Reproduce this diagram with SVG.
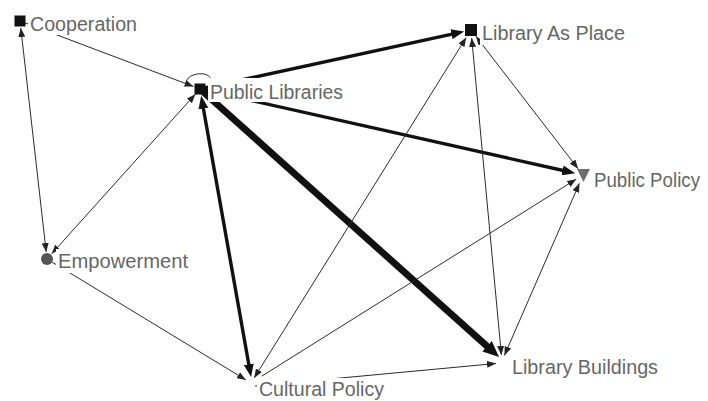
<svg xmlns="http://www.w3.org/2000/svg" width="708" height="401" viewBox="0 0 708 401">
<defs>
<marker id="aT" viewBox="0 0 9 7" refX="9" refY="3.5" markerWidth="9" markerHeight="7" markerUnits="userSpaceOnUse" orient="auto-start-reverse"><path d="M0,0 L9,3.5 L0,7 z" fill="#222"/></marker>
<marker id="aM" viewBox="0 0 13 10" refX="3" refY="5" markerWidth="13" markerHeight="10" markerUnits="userSpaceOnUse" orient="auto-start-reverse"><path d="M0,0 L13,5 L0,10 z" fill="#111"/></marker>
<marker id="aB" viewBox="0 0 16 14" refX="2" refY="7" markerWidth="16" markerHeight="14" markerUnits="userSpaceOnUse" orient="auto-start-reverse"><path d="M0,0 L16,7 L0,14 z" fill="#111"/></marker>
<style>
.thin{stroke:#2a2a2a;stroke-width:1;fill:none}
.med{stroke:#111;stroke-width:3.4;fill:none}
.big{stroke:#111;stroke-width:6.8;fill:none}
.lbl{font-family:"Liberation Sans",Arial,sans-serif;font-size:20px;fill:#666666}
.bg{fill:#ffffff}
.sq{fill:#111}
</style>
</defs>
<rect width="708" height="401" fill="#ffffff"/>
<g id="connectors">
<line class="thin" x1="20" y1="21" x2="193.5" y2="86.5" marker-end="url(#aT)"/>
<line class="thin" x1="20.8" y1="28" x2="46.2" y2="252" marker-start="url(#aT)" marker-end="url(#aT)"/>
<line class="thin" x1="195.3" y1="94.2" x2="51.7" y2="253.8" marker-start="url(#aT)" marker-end="url(#aT)"/>
<path class="thin" d="M186,84 C185,72 212,70 211,81"/>
<line class="med" x1="200" y1="89" x2="454.4" y2="33.6" marker-end="url(#aM)"/>
<line class="med" x1="200" y1="89" x2="565.4" y2="171" marker-end="url(#aM)"/>
<line class="med" x1="202.9" y1="105.7" x2="249.3" y2="367.2" marker-start="url(#aM)" marker-end="url(#aM)"/>
<line class="big" x1="200" y1="89" x2="488.6" y2="347.6" marker-end="url(#aB)"/>
<line class="thin" x1="47" y1="259" x2="245.9" y2="379.9" marker-end="url(#aT)"/>
<line class="thin" x1="466.2" y1="37.6" x2="254.2" y2="377.9" marker-start="url(#aT)" marker-end="url(#aT)"/>
<line class="thin" x1="471.7" y1="38" x2="501.4" y2="355" marker-start="url(#aT)" marker-end="url(#aT)"/>
<line class="thin" x1="475.9" y1="36.3" x2="578.1" y2="168.7" marker-start="url(#aT)" marker-end="url(#aT)"/>
<line class="thin" x1="576.2" y1="179.2" x2="262" y2="376" marker-start="url(#aT)"/>
<line class="thin" x1="579.4" y1="183.3" x2="504.4" y2="355.5" marker-start="url(#aT)" marker-end="url(#aT)"/>
<line class="thin" x1="255" y1="386" x2="496" y2="363.5" marker-end="url(#aT)"/>
</g>
<g id="node-cooperation">
<rect class="bg" x="28" y="12" width="112" height="23"/>
<rect class="sq" x="14.5" y="15.5" width="11" height="11"/>
<text class="lbl" x="30" y="31" textLength="107" lengthAdjust="spacingAndGlyphs">Cooperation</text>
</g>
<g id="node-public-libraries">
<rect class="bg" x="208" y="78" width="139" height="24"/>
<rect class="sq" x="194.5" y="83.5" width="11" height="11"/>
<text class="lbl" x="210" y="99" textLength="133" lengthAdjust="spacingAndGlyphs">Public Libraries</text>
</g>
<g id="node-library-as-place">
<rect class="bg" x="480" y="20" width="148" height="25"/>
<rect class="sq" x="465" y="24" width="12" height="12"/>
<text class="lbl" x="482" y="39.5" textLength="143" lengthAdjust="spacingAndGlyphs">Library As Place</text>
</g>
<g id="node-public-policy">
<rect class="bg" x="592" y="166" width="111" height="26"/>
<polygon points="577,169 590,169 583.5,182" fill="#6e6e6e"/>
<text class="lbl" x="594" y="187" textLength="106" lengthAdjust="spacingAndGlyphs">Public Policy</text>
</g>
<g id="node-empowerment">
<rect class="bg" x="56" y="249" width="134" height="24"/>
<circle cx="47" cy="259" r="6" fill="#555555"/>
<text class="lbl" x="58" y="268" textLength="130" lengthAdjust="spacingAndGlyphs">Empowerment</text>
</g>
<g id="node-cultural-policy">
<rect class="bg" x="257" y="378" width="130" height="23"/>
<text class="lbl" x="259" y="396" textLength="125" lengthAdjust="spacingAndGlyphs">Cultural Policy</text>
</g>
<g id="node-library-buildings">
<rect class="bg" x="510" y="355" width="151" height="25"/>
<text class="lbl" x="512" y="374" textLength="146" lengthAdjust="spacingAndGlyphs">Library Buildings</text>
</g>
</svg>
